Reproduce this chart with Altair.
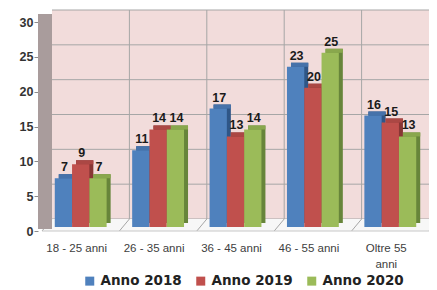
import altair as alt
import pandas as pd

# ---- data ----
categories = ["18 - 25 anni", "26 - 35 anni", "36 - 45 anni", "46 - 55 anni", "Oltre 55 anni"]
series = ["Anno 2018", "Anno 2019", "Anno 2020"]
v2018 = [7, 11, 17, 23, 16]
v2019 = [9, 14, 13, 20, 15]
v2020 = [7, 14, 14, 25, 13]
y_ticks = [0, 5, 10, 15, 20, 25, 30]

# ---- styles ----
front_colors = ["#4f81bd", "#c0504d", "#9bbb59"]
top_colors = ["#4672aa", "#ab4744", "#89a74d"]
side_colors = ["#2f5687", "#883634", "#67853a"]
WALL = "#f2dcdb"
SIDE_WALL = "#a99c9c"
GRID = "#a6a6a6"
FLOOR = "#f7f7f7"

W, H = 387, 209
D = 4          # bar depth
BX, BY = 10, 8  # back wall shift
PAD_IN = 0.33

rows = []
for i, (s, vals) in enumerate(zip(series, [v2018, v2019, v2020])):
    for c, v in zip(categories, vals):
        rows.append({"cat": c, "serie": s, "val": v,
                     "top_col": top_colors[i], "side_col": side_colors[i]})
df = pd.DataFrame(rows)

ys = alt.Scale(domain=[0, 30], nice=False, zero=True)
xo = alt.Scale(domain=series, paddingInner=0, paddingOuter=0)
qx = alt.Scale(domain=[0, len(categories)], nice=False, zero=False)

y_axis = alt.Axis(title=None, values=y_ticks, grid=False, domain=False, ticks=True,
                  tickSize=4, tickColor="#8c8c8c", offset=4, tickOffset=4,
                  labelPadding=1, labelFont="Liberation Sans", labelFontSize=12.5,
                  labelFontWeight="bold", labelColor="#333333", labelOverlap=False)


def Y(field):
    return alt.Y(field, scale=ys, axis=y_axis)


def band(rng=None):
    if rng is None:
        return alt.Scale(domain=categories, paddingInner=PAD_IN, paddingOuter=PAD_IN / 2)
    return alt.Scale(domain=categories, paddingInner=PAD_IN, paddingOuter=PAD_IN / 2, range=rng)


# ---- walls and grid ----
wall_df = pd.DataFrame({"l": [0], "r": [len(categories)], "t": [30], "b": [0]})
back_wall = alt.Chart(wall_df).mark_rect(
    color=WALL, xOffset=BX, x2Offset=BX + 20, yOffset=-BY, y2Offset=-BY
).encode(
    x=alt.X("l:Q", scale=qx, axis=None), x2="r:Q",
    y=Y("t:Q"), y2="b:Q",
)

hgrid_df = pd.DataFrame({"v": y_ticks, "l": 0, "r": len(categories)})
hgrid = alt.Chart(hgrid_df).mark_rule(
    color=GRID, strokeWidth=1, xOffset=BX, x2Offset=BX + 20, yOffset=-BY, y2Offset=-BY
).encode(
    x=alt.X("l:Q", scale=qx, axis=None), x2="r:Q",
    y=Y("v:Q"),
)

vgrid_df = pd.DataFrame({"b": [1, 2, 3, 4], "t": 30, "z": 0})
vgrid = alt.Chart(vgrid_df).mark_rule(
    color=GRID, strokeWidth=1, xOffset=BX, x2Offset=BX, yOffset=-BY, y2Offset=-BY
).encode(
    x=alt.X("b:Q", scale=qx, axis=None), x2="b:Q",
    y=Y("t:Q"), y2="z:Q",
)

floor = alt.Chart(wall_df).mark_rect(
    color=FLOOR, xOffset=0, x2Offset=BX + 20, yOffset=-BY, y2Offset=D
).encode(
    x=alt.X("l:Q", scale=qx, axis=None), x2="r:Q",
    y=Y("b:Q"), y2="b:Q",
)

diag_df = pd.DataFrame({"b": [0, 1, 2, 3, 4, 5], "z": 0})
diag = alt.Chart(diag_df).mark_rule(
    color=GRID, strokeWidth=1, xOffset=BX, x2Offset=0, yOffset=-BY, y2Offset=D
).encode(
    x=alt.X("b:Q", scale=qx, axis=None), x2="b:Q",
    y=Y("z:Q"), y2="z:Q",
)

front_edge = alt.Chart(wall_df).mark_rule(
    color="#c8c8c8", strokeWidth=1, yOffset=D, y2Offset=D
).encode(
    x=alt.X("l:Q", scale=qx, axis=None), x2="r:Q",
    y=Y("b:Q"),
)

side_wall = alt.Chart(wall_df).mark_rect(
    color=SIDE_WALL, xOffset=-4, x2Offset=BX, yOffset=-BY + 4, y2Offset=D - 2
).encode(
    x=alt.X("l:Q", scale=qx, axis=None), x2="l:Q",
    y=Y("t:Q"), y2="b:Q",
)

# ---- 3D bars ----
side = alt.Chart(df).mark_bar(yOffset=-D, y2Offset=-D).encode(
    x=alt.X("cat:N", scale=band([D, W + D]), sort=categories, axis=None),
    xOffset=alt.XOffset("serie:N", scale=xo, sort=series),
    y=Y("val:Q"),
    fill=alt.Fill("side_col:N", scale=None, legend=None),
)

top = alt.Chart(df).mark_bar(yOffset=-D, y2Offset=0).encode(
    x=alt.X("cat:N", scale=band([D, W + D]), sort=categories, axis=None),
    xOffset=alt.XOffset("serie:N", scale=xo, sort=series),
    y=Y("val:Q"), y2="val:Q",
    fill=alt.Fill("top_col:N", scale=None, legend=None),
)

front = alt.Chart(df).mark_bar().encode(
    x=alt.X("cat:N", scale=band(), sort=categories,
            axis=alt.Axis(title=None, domain=False, ticks=False, labelAngle=0,
                          labelPadding=15, labelFont="Liberation Sans", labelFontSize=11.5,
                          labelColor="#404040", labelOffset=-4, labelLineHeight=16,
                          labelExpr="datum.label == 'Oltre 55 anni' ? ['Oltre 55', 'anni'] : datum.label")),
    xOffset=alt.XOffset("serie:N", scale=xo, sort=series),
    y=Y("val:Q"),
    color=alt.Color("serie:N", scale=alt.Scale(domain=series, range=front_colors), sort=series,
                    legend=alt.Legend(orient="none", legendX=41, legendY=256, direction="horizontal",
                                      title=None, symbolType="square", symbolSize=81,
                                      symbolStrokeWidth=0, labelFont="DejaVu Sans",
                                      labelFontSize=13.5, labelFontWeight="bold", labelColor="#222222",
                                      columnPadding=12, labelOffset=4)),
)

labels = alt.Chart(df).mark_text(
    baseline="bottom", dy=-4, dx=1, font="Liberation Sans", fontSize=12.5,
    fontWeight="bold", color="#1a1a1a"
).encode(
    x=alt.X("cat:N", scale=band(), sort=categories, axis=None),
    xOffset=alt.XOffset("serie:N", scale=xo, sort=series),
    y=Y("val:Q"),
    text=alt.Text("val:Q"),
)

chart = alt.layer(
    back_wall, hgrid, vgrid, floor, diag, front_edge, side_wall, side, top, front, labels
).resolve_scale(x="independent").properties(
    width=W, height=H,
    autosize=alt.AutoSizeParams(type="none"),
    padding={"left": 34, "top": 10, "right": 0, "bottom": 63},
    background="white",
).configure_view(stroke=None)

chart.save("out.html", embed_options={"renderer": "svg", "actions": False})
